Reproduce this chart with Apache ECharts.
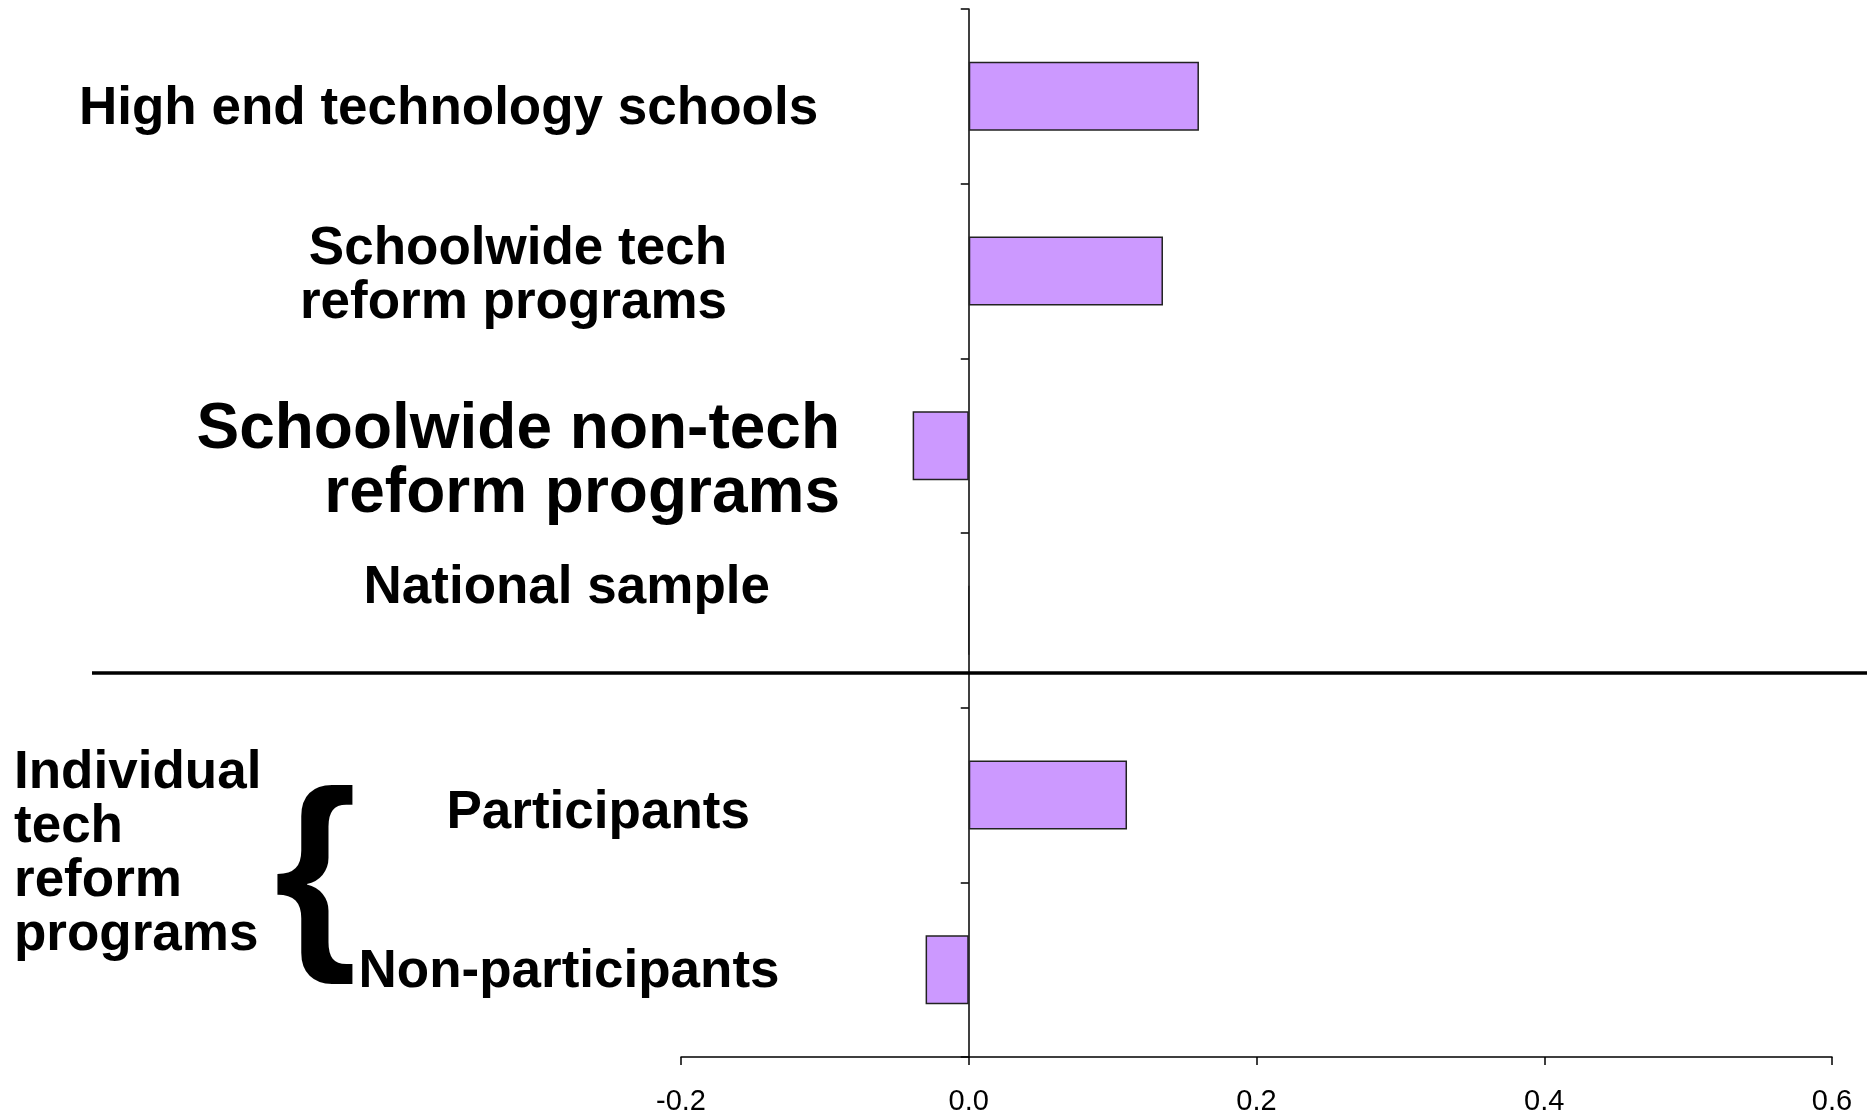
<!DOCTYPE html>
<html>
<head>
<meta charset="utf-8">
<script src="https://cdn.jsdelivr.net/npm/echarts@6/dist/echarts.min.js"></script>
<style>
html,body{margin:0;padding:0;background:#fff;}
#chart{width:1876px;height:1118px;}
</style>
</head>
<body>
<div id="chart"></div>
<script>
var categories = ['High end technology schools', 'Schoolwide tech reform programs', 'Schoolwide non-tech reform programs', 'National sample', 'Participants', 'Non-participants'];
var values = [0.16, 0.135, -0.039, 0, 0.11, -0.03];
var xTicks = [-0.2, 0.0, 0.2, 0.4, 0.6];

var FONT = '"Liberation Sans", Arial, Helvetica, sans-serif';
var chart = echarts.init(document.getElementById('chart'), null, {renderer: 'canvas'});

function txt(text, x, y, size, align, lh) {
  return {
    type: 'text', x: x, y: y, z: 10,
    style: {
      text: text, fill: '#000', fontFamily: FONT, fontWeight: 'bold', fontSize: size,
      align: align, verticalAlign: 'middle', lineHeight: lh || size
    }
  };
}

chart.setOption({
  animation: false,
  backgroundColor: '#fff',
  grid: {left: 681, right: 44, top: 9, bottom: 61, containLabel: false},
  xAxis: {
    type: 'value', min: xTicks[0], max: xTicks[xTicks.length - 1], interval: 0.2,
    axisLine: {show: true, lineStyle: {color: '#000', width: 1.5}},
    axisTick: {show: true, length: 8, lineStyle: {color: '#000', width: 1.5}},
    splitLine: {show: false},
    axisLabel: {
      margin: 30, color: '#000', fontSize: 29, fontFamily: FONT,
      formatter: function (v) { return v.toFixed(1); }
    }
  },
  yAxis: {
    type: 'category', inverse: true, data: categories,
    axisLine: {show: true, onZero: true, lineStyle: {color: '#000', width: 1.5}},
    axisTick: {show: true, length: 8, lineStyle: {color: '#000', width: 1.5}},
    axisLabel: {show: false},
    splitLine: {show: false}
  },
  series: [{
    type: 'bar', data: values, barWidth: '39.5%',
    itemStyle: {color: '#CC99FF', borderColor: '#222', borderWidth: 1.5}
  }],
  graphic: [
    txt('High end technology schools', 79, 109.5, 53, 'left'),
    txt('Schoolwide tech\nreform programs', 727, 276, 53, 'right', 54),
    txt('Schoolwide non-tech\nreform programs', 840, 462.5, 64, 'right', 64),
    txt('National sample', 363.5, 588.5, 53, 'left'),
    txt('Participants', 446.5, 813.5, 53, 'left'),
    txt('Non-participants', 358.5, 972.5, 53, 'left'),
    txt('Individual\ntech\nreform\nprograms', 14, 854, 53, 'left', 54),
    txt('{', 274, 881, 213, 'left'),
    {
      type: 'line', z: 10,
      shape: {x1: 92, y1: 673, x2: 1867, y2: 673},
      style: {stroke: '#000', lineWidth: 3.5}
    }
  ]
});
</script>
</body>
</html>
